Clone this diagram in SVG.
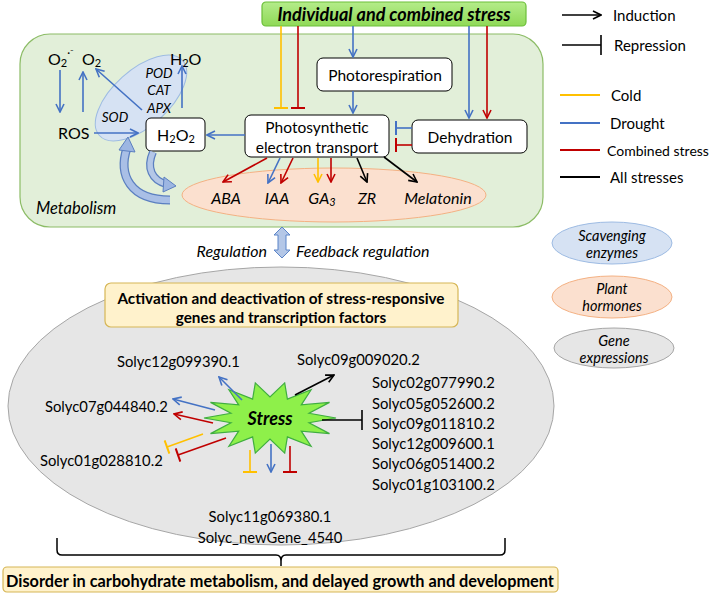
<svg xmlns="http://www.w3.org/2000/svg" width="709" height="594" viewBox="0 0 709 594">
<style>
text{font-family:Lato,"Liberation Sans",sans-serif;fill:#000;}
.t{font-size:15px;text-anchor:middle;dominant-baseline:central;}
.it{font-style:italic;}
.b{font-weight:bold;}
.g{font-size:14.8px;dominant-baseline:central;}
.lg{font-size:15px;dominant-baseline:central;}
.box{fill:#fff;stroke:#000;stroke-width:1;}
.cb{stroke:#4472c4;stroke-width:1.6;fill:none;}
.cr{stroke:#c00000;stroke-width:1.6;fill:none;}
.cy{stroke:#ffc000;stroke-width:1.6;fill:none;}
.ck{stroke:#000;stroke-width:1.6;fill:none;}
</style>
<defs>
<marker id="aB" viewBox="0 0 10 10" refX="9" refY="5" markerWidth="10" markerHeight="10" markerUnits="userSpaceOnUse" orient="auto"><path d="M1,1 L9,5 L1,9" fill="none" stroke="#4472c4" stroke-width="1.6"/></marker>
<marker id="aR" viewBox="0 0 10 10" refX="9" refY="5" markerWidth="10" markerHeight="10" markerUnits="userSpaceOnUse" orient="auto"><path d="M1,1 L9,5 L1,9" fill="none" stroke="#c00000" stroke-width="1.6"/></marker>
<marker id="aY" viewBox="0 0 10 10" refX="9" refY="5" markerWidth="10" markerHeight="10" markerUnits="userSpaceOnUse" orient="auto"><path d="M1,1 L9,5 L1,9" fill="none" stroke="#ffc000" stroke-width="1.6"/></marker>
<marker id="aK" viewBox="0 0 10 10" refX="9" refY="5" markerWidth="10" markerHeight="10" markerUnits="userSpaceOnUse" orient="auto"><path d="M1,1 L9,5 L1,9" fill="none" stroke="#000" stroke-width="1.6"/></marker>
<marker id="tB" viewBox="0 0 4 14" refX="2" refY="7" markerWidth="4" markerHeight="14" markerUnits="userSpaceOnUse" orient="auto"><path d="M2,0 V14" stroke="#4472c4" stroke-width="2"/></marker>
<marker id="tR" viewBox="0 0 4 14" refX="2" refY="7" markerWidth="4" markerHeight="14" markerUnits="userSpaceOnUse" orient="auto"><path d="M2,0 V14" stroke="#c00000" stroke-width="2"/></marker>
<marker id="tY" viewBox="0 0 4 14" refX="2" refY="7" markerWidth="4" markerHeight="14" markerUnits="userSpaceOnUse" orient="auto"><path d="M2,0 V14" stroke="#ffc000" stroke-width="2"/></marker>
<marker id="tK" viewBox="0 0 4 20" refX="2" refY="10" markerWidth="4" markerHeight="20" markerUnits="userSpaceOnUse" orient="auto"><path d="M2,0 V20" stroke="#000" stroke-width="1.6"/></marker>
<linearGradient id="gTop" x1="0" y1="0" x2="0" y2="1"><stop offset="0" stop-color="#b4ec8a"/><stop offset="1" stop-color="#8fd957"/></linearGradient>
</defs>

<!-- Metabolism panel -->
<g id="metabolism">
<rect x="20" y="34" width="523" height="193" rx="30" fill="#e2efd9" stroke="#8cbc66" stroke-width="1.2"/>
<text class="lg it" x="36" y="208" style="font-size:16.5px">Metabolism</text>
</g>

<g id="scavenging-ellipse">
<ellipse cx="141" cy="98" rx="56" ry="28" transform="rotate(-42 141 98)" fill="#d6e2f3" stroke="#9dbbe3" stroke-width="1"/>
<text class="t it" x="159" y="73" style="font-size:13.5px">POD</text>
<text class="t it" x="159" y="90" style="font-size:13.5px">CAT</text>
<text class="t it" x="159" y="108" style="font-size:13.5px">APX</text>
<text class="t it" x="115" y="117" style="font-size:13.5px">SOD</text>
</g>

<g id="hormones">
<ellipse cx="334" cy="195" rx="152" ry="27" fill="#fbe0cf" stroke="#f4b183" stroke-width="1"/>
<text class="t it" x="226" y="197" style="font-size:16px">ABA</text>
<text class="t it" x="277" y="197" style="font-size:16px">IAA</text>
<text class="t it" x="322" y="197" style="font-size:16px">GA<tspan font-size="11" dy="4">3</tspan></text>
<text class="t it" x="367" y="197" style="font-size:16px">ZR</text>
<text class="t it" x="438" y="197" style="font-size:16px">Melatonin</text>
</g>

<g id="ros-species">
<text class="lg" x="48" y="58" style="font-size:16px">O<tspan font-size="11" dy="4">2</tspan><tspan font-size="11" dy="-10">·⁻</tspan></text>
<text class="lg" x="82" y="58" style="font-size:16px">O<tspan font-size="11" dy="4">2</tspan></text>
<text class="lg" x="170" y="58" style="font-size:16px">H<tspan font-size="11" dy="4">2</tspan><tspan dy="-4">O</tspan></text>
<text class="lg" x="58" y="132" style="font-size:16px">ROS</text>
</g>

<g id="h2o2">
<rect class="box" x="146" y="118" width="59" height="33" rx="5"/>
<text class="t" x="176" y="134" style="font-size:16px">H<tspan font-size="11" dy="4">2</tspan><tspan dy="-4">O</tspan><tspan font-size="11" dy="4">2</tspan></text>
</g>

<g id="photorespiration">
<rect class="box" x="317" y="58" width="135" height="33" rx="6"/>
<text class="t" x="385" y="75" style="font-size:15.5px">Photorespiration</text>
</g>

<g id="pet">
<rect class="box" x="245" y="115" width="144" height="42" rx="6"/>
<text class="t" x="317" y="127" style="font-size:15.5px">Photosynthetic</text>
<text class="t" x="317" y="147" style="font-size:15.5px">electron transport</text>
</g>

<g id="dehydration">
<rect class="box" x="412" y="120" width="115" height="33" rx="6"/>
<text class="t" x="470" y="137" style="font-size:15.5px">Dehydration</text>
</g>

<g id="stress-top">
<rect x="262" y="2" width="264" height="24" rx="4" fill="url(#gTop)" stroke="#6cbf3a" stroke-width="1.2"/>
<text class="t it b" x="394" y="14" style="font-size:18px">Individual and combined stress</text>
</g>

<!-- Legend -->
<g id="legend">
<line class="ck" x1="562" y1="15" x2="601" y2="15" marker-end="url(#aK)"/>
<text class="lg" x="613" y="15">Induction</text>
<line class="ck" x1="562" y1="45" x2="601" y2="45" marker-end="url(#tK)"/>
<text class="lg" x="614" y="45">Repression</text>
<line x1="560" y1="95" x2="600" y2="95" stroke="#ffc000" stroke-width="1.8"/>
<text class="lg" x="611" y="95">Cold</text>
<line x1="560" y1="123" x2="600" y2="123" stroke="#4472c4" stroke-width="1.8"/>
<text class="lg" x="610" y="123">Drought</text>
<line x1="560" y1="150" x2="600" y2="150" stroke="#c00000" stroke-width="1.8"/>
<text class="lg" x="607" y="150" style="font-size:14px">Combined stress</text>
<line x1="560" y1="177" x2="600" y2="177" stroke="#000" stroke-width="1.8"/>
<text class="lg" x="610" y="177">All stresses</text>
</g>
<g id="legend-scavenging">
<ellipse cx="612" cy="243" rx="60" ry="21" fill="#d6e2f3" stroke="#9dbbe3"/>
<text class="t it" x="612" y="235" style="font-size:14.5px">Scavenging</text>
<text class="t it" x="612" y="252" style="font-size:14.5px">enzymes</text>
</g>
<g id="legend-hormones">
<ellipse cx="612" cy="297" rx="60" ry="21" fill="#fbe0cf" stroke="#f4b183"/>
<text class="t it" x="612" y="288" style="font-size:14.5px">Plant</text>
<text class="t it" x="612" y="305" style="font-size:14.5px">hormones</text>
</g>
<g id="legend-genes">
<ellipse cx="614" cy="348" rx="60" ry="20" fill="#e6e6e6" stroke="#a6a6a6"/>
<text class="t it" x="614" y="340" style="font-size:14.5px">Gene</text>
<text class="t it" x="614" y="357" style="font-size:14.5px">expressions</text>
</g>

<!-- Regulation -->
<g id="regulation">
<path d="M282,227 L290,235 L286,235 L286,250 L290,250 L282,258 L274,250 L278,250 L278,235 L274,235 Z" fill="#b4c7e7" stroke="#5b84c8" stroke-width="1"/>
<text class="lg it" x="267" y="250" text-anchor="end" style="font-size:16px">Regulation</text>
<text class="lg it" x="296" y="250" style="font-size:16px">Feedback regulation</text>
</g>

<!-- Gene expression ellipse -->
<g id="gene-ellipse">
<ellipse cx="281" cy="406" rx="273" ry="139" fill="#e6e6e6" stroke="#a6a6a6" stroke-width="1"/>
</g>
<g id="activation">
<rect x="105" y="283" width="353" height="44" rx="6" fill="#fff2cc" stroke="#d6b656" stroke-width="1.2"/>
<text class="t b" x="281" y="298" style="font-size:15.3px">Activation and deactivation of stress-responsive</text>
<text class="t b" x="281" y="317" style="font-size:15.3px">genes and transcription factors</text>
</g>

<g id="stress-star">
<polygon points="336,418 309,422.7 329.5,433.6 301.3,431.1 311.1,446.2 287.4,436.9 284.7,453.1 270,439 255.3,453.1 252.6,436.9 228.9,446.2 238.7,431.1 210.5,433.6 231,422.7 204,418 231,413.3 210.5,402.4 238.7,404.9 228.9,389.8 252.6,399.1 255.3,382.9 270,397 284.7,382.9 287.4,399.1 311.1,389.8 301.3,404.9 329.5,402.4 309,413.3" fill="#8ef04a" stroke="#3fae3f" stroke-width="1.2"/>
<text class="t it b" x="270" y="418" style="font-size:18px">Stress</text>
</g>

<g id="genes">
<text class="g" x="117" y="361">Solyc12g099390.1</text>
<text class="g" x="297" y="359">Solyc09g009020.2</text>
<text class="g" x="45" y="406">Solyc07g044840.2</text>
<text class="g" x="40" y="460">Solyc01g028810.2</text>
<text class="g" x="372" y="382">Solyc02g077990.2</text>
<text class="g" x="372" y="403">Solyc05g052600.2</text>
<text class="g" x="372" y="423">Solyc09g011810.2</text>
<text class="g" x="372" y="443">Solyc12g009600.1</text>
<text class="g" x="372" y="463">Solyc06g051400.2</text>
<text class="g" x="372" y="484">Solyc01g103100.2</text>
<text class="g" x="270" y="516" text-anchor="middle">Solyc11g069380.1</text>
<text class="g" x="270" y="537" text-anchor="middle">Solyc_newGene_4540</text>
</g>

<g id="outcome">
<rect x="3" y="567" width="555" height="25" rx="4" fill="#fff2cc" stroke="#d6b656" stroke-width="1.2"/>
<text class="t b" x="280" y="580" style="font-size:16.3px">Disorder in carbohydrate metabolism, and delayed growth and development</text>
</g>

<!-- Connectors -->
<g id="connectors">
<path class="cy" d="M281,26 V108" marker-end="url(#tY)"/>
<path class="cr" d="M298,26 V108" marker-end="url(#tR)"/>
<path class="cb" d="M353,26 V57" marker-end="url(#aB)"/>
<path class="cb" d="M353,91 V113" marker-end="url(#aB)"/>
<path class="cb" d="M469,26 V118" marker-end="url(#aB)"/>
<path class="cr" d="M487,26 V118" marker-end="url(#aR)"/>
<path class="cb" d="M412,128 H396" marker-end="url(#tB)"/>
<path class="cr" d="M412,145 H396" marker-end="url(#tR)"/>
<path class="cb" d="M245,135 H207" marker-end="url(#aB)"/>
<path class="cr" d="M267,158 L223,182" marker-end="url(#aR)"/>
<path class="cb" d="M280,158 L268,183" marker-end="url(#aB)"/>
<path class="cr" d="M293,158 L281,183" marker-end="url(#aR)"/>
<path class="cy" d="M318,158 V182" marker-end="url(#aY)"/>
<path class="cr" d="M331,158 V182" marker-end="url(#aR)"/>
<path class="ck" d="M357,158 L367,182" marker-end="url(#aK)"/>
<path class="ck" d="M384,157 L417,182" marker-end="url(#aK)"/>
<path class="cb" d="M60,70 V112" marker-end="url(#aB)"/>
<path class="cb" d="M83,112 V72" marker-end="url(#aB)"/>
<path class="cb" d="M94,133 H138" marker-end="url(#aB)"/>
<path class="cb" d="M142,110 L96,69" marker-end="url(#aB)"/>
<path class="cb" d="M182,108 V66" stroke-width="2.2" marker-end="url(#aB)"/>
<!-- curved block arrows -->
<path d="M153,152 C146,168 152,180 166,184" fill="none" stroke="#5b7fc0" stroke-width="8"/>
<path d="M153,152 C146,168 152,180 166,184" fill="none" stroke="#b4c7e7" stroke-width="5.5"/>
<path d="M164,177 L176,186 L163,192 Z" fill="#9db6e2" stroke="#5b7fc0" stroke-width="1"/>
<path d="M170,200 C130,200 118,175 127,148" fill="none" stroke="#5b7fc0" stroke-width="9"/>
<path d="M170,200 C130,200 118,175 127,148" fill="none" stroke="#a9bfe6" stroke-width="6.5"/>
<path d="M119,150 L128,137 L135,152 Z" fill="#9db6e2" stroke="#5b7fc0" stroke-width="1"/>
<!-- stress star connectors -->
<path class="cb" d="M242,400 L219,377" marker-end="url(#aB)"/>
<path class="ck" d="M295,395 L334,375" marker-end="url(#aK)"/>
<path class="cb" d="M215,410 L173,399" marker-end="url(#aB)"/>
<path class="cr" d="M213,423 L174,414" marker-end="url(#aR)"/>
<path class="cy" d="M203,434 L167,447" marker-end="url(#tY)"/>
<path class="cr" d="M226,438 L178,455" marker-end="url(#tR)"/>
<path class="ck" d="M322,420 H362" marker-end="url(#tK)"/>
<path class="cy" d="M250,450 V472" marker-end="url(#tY)"/>
<path class="cb" d="M271,444 V472" marker-end="url(#aB)"/>
<path class="cr" d="M290,446 V472" marker-end="url(#tR)"/>
<!-- brace -->
<path d="M57,538 V550 Q57,555 62,555 H276 Q281,555 281,561 V566 V561 Q281,555 286,555 H500 Q505,555 505,550 V538" fill="none" stroke="#000" stroke-width="1.5"/>
</g>
</svg>
